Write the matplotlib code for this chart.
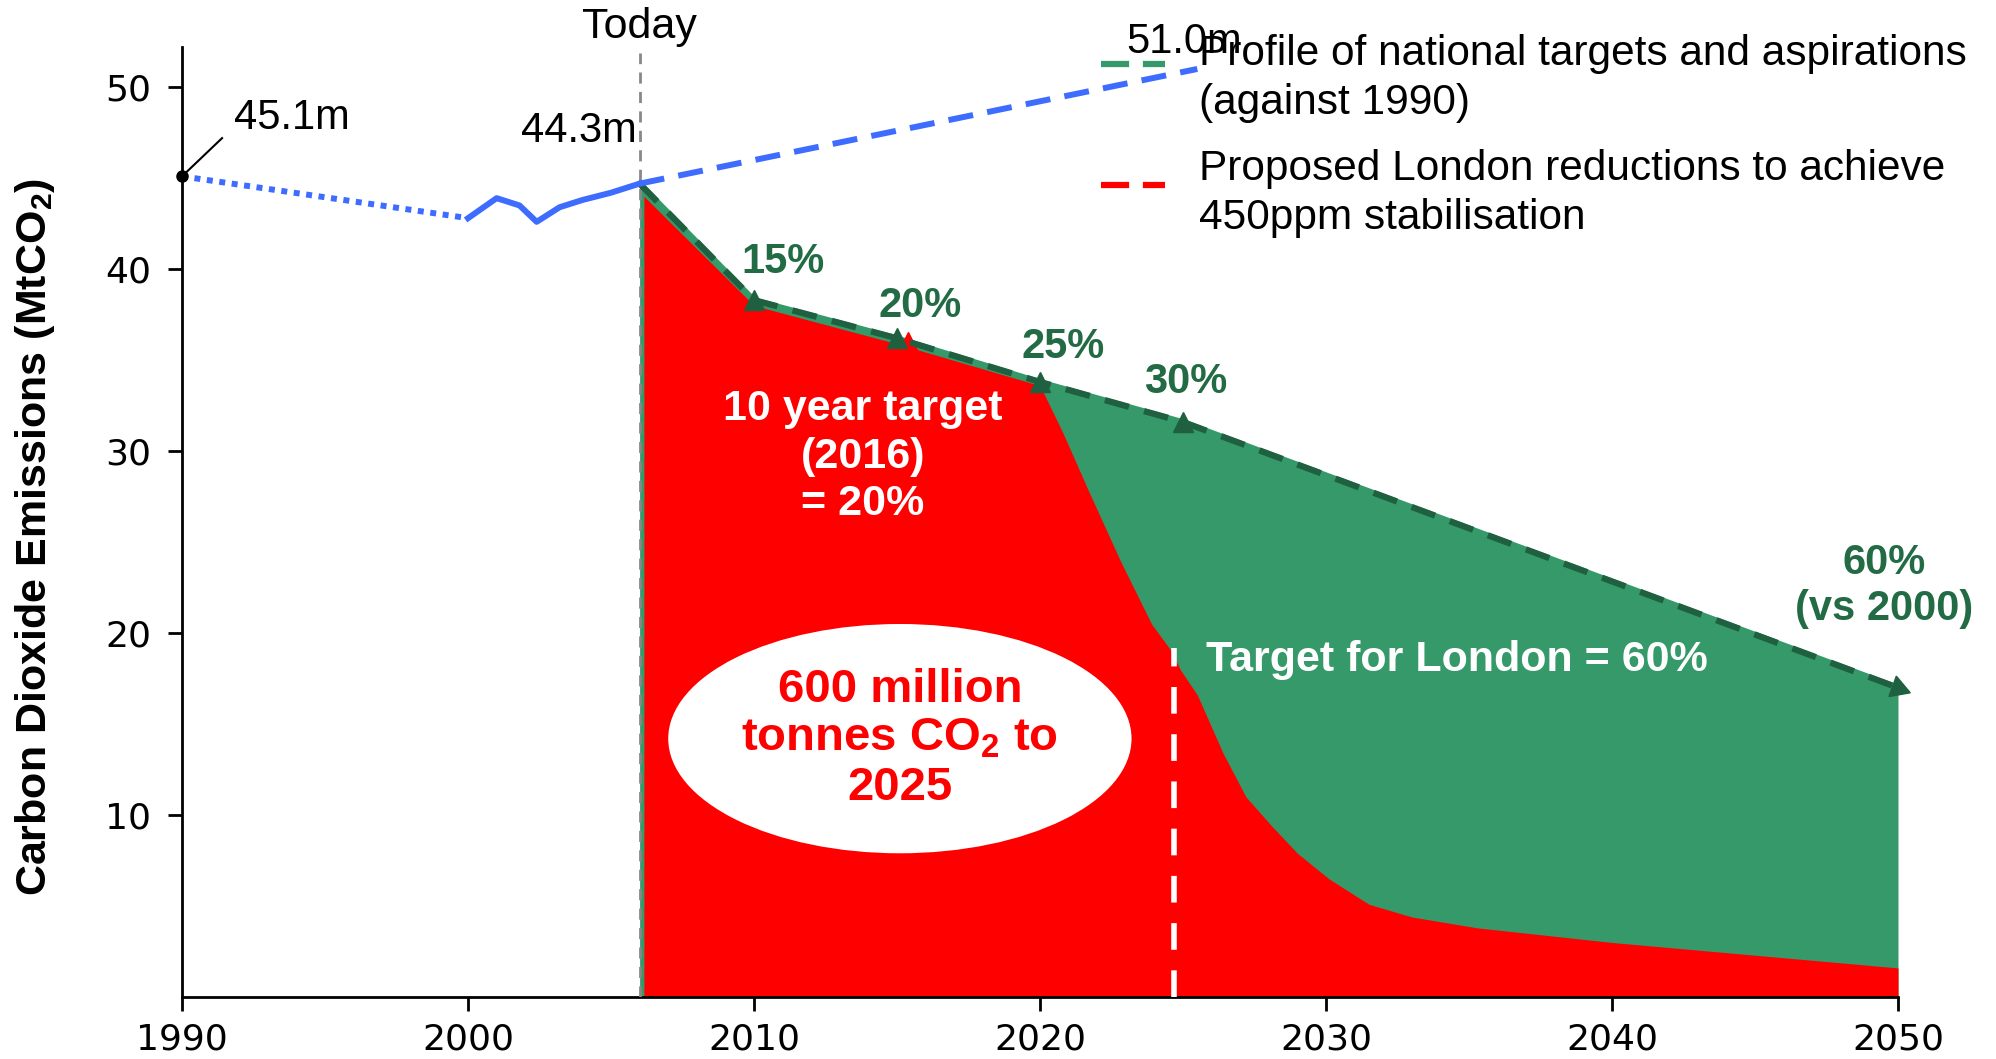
import matplotlib
matplotlib.use('Agg')
import matplotlib.pyplot as plt
from matplotlib.patches import Ellipse
from matplotlib.lines import Line2D

plt.rcParams['font.family'] = ['Liberation Sans', 'DejaVu Sans']
plt.rcParams['mathtext.fontset'] = 'custom'
plt.rcParams['mathtext.rm'] = 'Liberation Sans:bold'
plt.rcParams['mathtext.default'] = 'rm'

# historic emissions (MtCO2)
hist_est_years = [1990, 2000]
hist_est_vals = [45.1, 42.8]
hist_years = [2000, 2001, 2001.8, 2002.4, 2003.2, 2004, 2005, 2006]
hist_vals = [42.8, 43.9, 43.5, 42.6, 43.4, 43.8, 44.2, 44.7]

# business as usual projection
bau_years = [2006, 2025.5]
bau_vals = [44.7, 51.0]

# national targets profile
target_years = [2006, 2010, 2015, 2020, 2025, 2050]
target_vals = [44.7, 38.3, 36.2, 33.8, 31.6, 17.0]
target_labels = ['15%', '20%', '25%', '30%']

# proposed London reductions
london_years = [2006.15, 2010, 2015, 2020, 2020.8, 2021.7, 2022.8, 2023.9, 2024.6, 2024.9,
                2025.5, 2026.4, 2027.2, 2028.1, 2029.0, 2030.1, 2031.5, 2033.0, 2035.3,
                2040, 2045, 2050]
london_vals = [44.0, 38.0, 35.9, 33.6, 31.0, 27.8, 24.0, 20.5, 19.0, 18.0,
               16.6, 13.4, 11.0, 9.4, 7.9, 6.5, 5.1, 4.4, 3.8, 3.0, 2.3, 1.6]

RED = '#ff0000'
GREEN = '#36996a'
DKGREEN = '#1f6040'
BLUE = '#3d6cff'

fig = plt.figure(figsize=(19.96, 10.59), dpi=100)
ax = fig.add_axes([0.0912, 0.0585, 0.8597, 0.897])

# filled areas
ax.fill_between(target_years, 0, target_vals, color=GREEN, lw=0, zorder=1)
ax.fill_between(london_years, 0, london_vals, color=RED, lw=0, zorder=2)

# target profile line
ax.plot(target_years, target_vals, color=GREEN, lw=4, zorder=4)
ax.plot(target_years, target_vals, color=DKGREEN, lw=4.5, ls=(0, (4, 2.5)), zorder=5)
ax.plot(2015.4, 36.0, '^', color=RED, ms=15, zorder=4.5)
ax.plot(target_years[1:5], target_vals[1:5], '^', color=DKGREEN, ms=15, zorder=6)
ax.plot(target_years[-1], target_vals[-1], marker=(3, 0, -110), color=DKGREEN,
        ms=18, zorder=6, clip_on=False)

# 2025 marker
ax.plot([2024.7, 2024.7], [0, 19.2], color='white', lw=4, ls=(0, (4.8, 3.7)), zorder=3)

# today line
ax.plot([2006, 2006], [0, 51.9], color='#888888', lw=2, ls=(0, (4, 3)), zorder=3.5)
ax.text(2006, 53.3, 'Today', ha='center', va='center', fontsize=31, clip_on=False)

# emissions line
ax.plot(hist_est_years, hist_est_vals, color=BLUE, lw=4.3, ls=(0, (1, 1.1)), zorder=7, clip_on=False)
ax.plot(hist_years, hist_vals, color=BLUE, lw=4.3, zorder=7)
ax.plot(bau_years, bau_vals, color=BLUE, lw=4.3, ls=(0, (4.2, 2.4)), zorder=7)
ax.plot(1990, 45.1, 'o', color='black', ms=8, zorder=8, clip_on=False)
ax.plot([1990, 1991.4], [45.1, 47.2], color='black', lw=1.5, zorder=8, clip_on=False)
ax.text(1991.8, 48.3, '45.1m', ha='left', va='center', fontsize=30)
ax.text(2005.9, 47.6, '44.3m', ha='right', va='center', fontsize=30)
ax.text(2023.0, 52.5, '51.0m', ha='left', va='center', fontsize=30, clip_on=False)

# percentage labels
lab_pos = [(2011.0, 40.4), (2015.8, 38.0), (2020.8, 35.7), (2025.1, 33.8)]
for (x, y), t in zip(lab_pos, target_labels):
    ax.text(x, y, t, ha='center', va='center', fontsize=30, fontweight='bold',
            color='#236b45', zorder=9)
ax.text(2049.5, 22.6, '60%\n(vs 2000)', ha='center', va='center', fontsize=30,
        fontweight='bold', color='#236b45', linespacing=1.2, clip_on=False, zorder=9)

# inner annotations
ax.text(2013.8, 29.7, '10 year target\n(2016)\n= 20%', ha='center', va='center',
        fontsize=31, fontweight='bold', color='white', linespacing=1.25, zorder=9)
ax.text(2025.8, 18.5, 'Target for London = 60%', ha='left', va='center',
        fontsize=31, fontweight='bold', color='white', zorder=9)
ax.add_patch(Ellipse((2015.1, 14.2), 16.2, 12.6, facecolor='white', edgecolor='none', zorder=3))
ax.text(2015.1, 14.2, '600 million\ntonnes $\\mathregular{CO_2}$ to\n2025', ha='center', va='center',
        fontsize=34, fontweight='bold', color=RED, linespacing=1.15, zorder=9)

# axes styling
ax.set_xlim(1990, 2050)
ax.set_ylim(0, 52.2)
ax.set_xticks(range(1990, 2051, 10))
ax.set_yticks([10, 20, 30, 40, 50])
for s in ['top', 'right']:
    ax.spines[s].set_visible(False)
for s in ['left', 'bottom']:
    ax.spines[s].set_linewidth(2)
ax.tick_params(length=10, width=2, labelsize=26, direction='out')
ax.tick_params(axis='x', pad=8)
ax.tick_params(axis='y', pad=12)
for lab in ax.get_xticklabels() + ax.get_yticklabels():
    lab.set_fontfamily('DejaVu Sans')

ax.set_ylabel('Carbon Dioxide Emissions (MtCO$_2$)', fontsize=31, fontweight='bold')
ax.yaxis.set_label_coords(-0.073, 0.484)

# legend
fig.add_artist(Line2D([0.5516, 0.5837], [0.9396, 0.9396], color=GREEN, lw=4.5,
                      ls=(0, (4.5, 2.2)), transform=fig.transFigure))
fig.add_artist(Line2D([0.5516, 0.5837], [0.8253, 0.8253], color=RED, lw=4.5,
                      ls=(0, (4.5, 2.2)), transform=fig.transFigure))
fig.text(0.6007, 0.9259, 'Profile of national targets and aspirations\n(against 1990)',
         ha='left', va='center', fontsize=30.5, linespacing=1.3)
fig.text(0.6007, 0.8173, 'Proposed London reductions to achieve\n450ppm stabilisation',
         ha='left', va='center', fontsize=30.5, linespacing=1.3)

fig.savefig('out.png', dpi=100)
